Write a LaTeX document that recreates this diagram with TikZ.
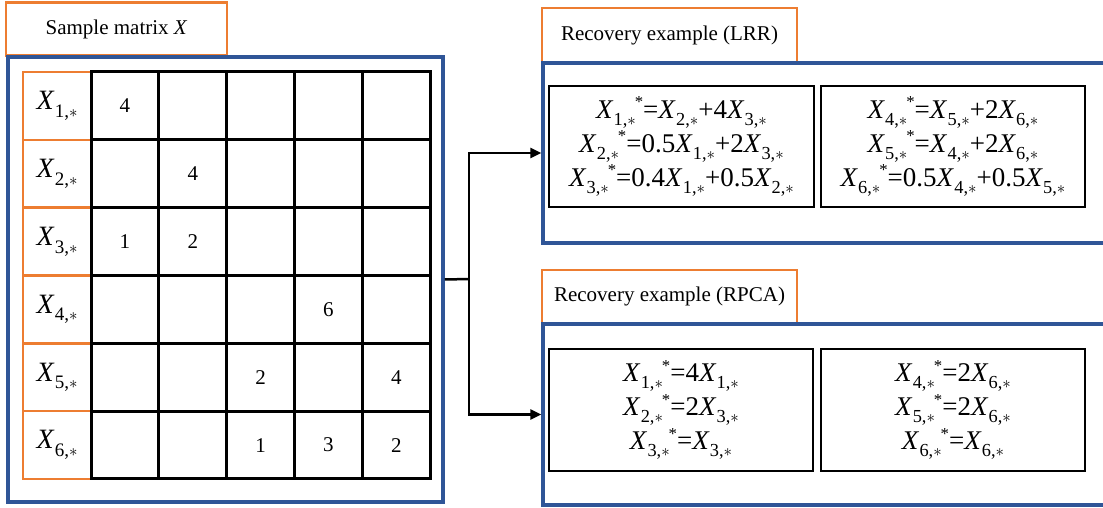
\documentclass[tikz,border=0pt]{standalone}
\usepackage{fontspec}
\usepackage{graphicx}
\setmainfont{Liberation Serif}
\usetikzlibrary{arrows.meta}
\definecolor{orng}{HTML}{ED7D31}
\definecolor{blu}{HTML}{2F5597}
\newcommand{\Xv}[1]{\textit{X}\kern0.01em\raisebox{-0.27em}{\scalebox{0.68}{#1,$\ast$}}}
\newcommand{\Xst}[1]{\Xv{#1}\kern-0.04em\raisebox{0.38em}{\scalebox{0.62}{*}}}
\begin{document}
\begin{tikzpicture}[x=1pt,y=-1pt,
  titlebox/.style={draw=orng,line width=2.5pt,inner sep=0pt,font=\fontsize{21}{25}\selectfont},
  bluebox/.style={draw=blu,line width=3.5pt,inner sep=0pt},
  labcell/.style={draw=orng,line width=2.5pt,minimum width=67.83pt,minimum height=67.83pt,inner sep=0pt,font=\fontsize{28}{30}\selectfont},
  gridcell/.style={draw=black,line width=3pt,minimum width=67.83pt,minimum height=67.83pt,inner sep=0pt,font=\fontsize{21}{25}\selectfont},
  num/.style={font=\fontsize{21}{25}\selectfont},
  eqbox/.style={draw=black,line width=1.5pt,inner sep=0pt,align=center,font=\fontsize{27}{34}\selectfont},
  link/.style={draw=black,line width=2.5pt},
  arr/.style={link,-{Triangle[length=11pt,width=10pt]}}]
\useasboundingbox (0,0) rectangle (1103,508);
% left part
\node[titlebox,minimum width=221pt,minimum height=53pt] (ttlX) at (116.5,29) {Sample matrix \textit{X}};
\node[bluebox,minimum width=435pt,minimum height=445pt] (boxX) at (225.5,279.5) {};
\foreach \i in {1,...,6}{
  \node[labcell] (lab\i) at (23.2+67.83*0.5,72+67.83*\i-67.83*0.5) {\Xv{\i}};
}
\foreach \i in {1,...,6}{
  \foreach \j in {1,...,5}{
    \node[gridcell] (c\i\j) at (23.2+67.83*\j+67.83*0.5,72+67.83*\i-67.83*0.5) {};
  }
}
\node[num] at (c11) {4};
\node[num] at (c22) {4};
\node[num] at (c31) {1};
\node[num] at (c32) {2};
\node[num] at (c44) {6};
\node[num] at (c53) {2};
\node[num] at (c55) {4};
\node[num] at (c63) {1};
\node[num] at (c64) {3};
\node[num] at (c65) {2};
% LRR
\node[titlebox,minimum width=255pt,minimum height=54pt] (ttlL) at (669.5,35) {Recovery example (LRR)};
\node[bluebox,minimum width=563pt,minimum height=180pt] (boxL) at (824.5,153) {};
\node[eqbox,minimum width=265pt,minimum height=121pt] (eqL1) at (681.5,146.5)
  {\Xst{1}=\Xv{2}+4\Xv{3}\\ \Xst{2}=0.5\Xv{1}+2\Xv{3}\\ \Xst{3}=0.4\Xv{1}+0.5\Xv{2}};
\node[eqbox,minimum width=264pt,minimum height=121pt] (eqL2) at (953,146.5)
  {\Xst{4}=\Xv{5}+2\Xv{6}\\ \Xst{5}=\Xv{4}+2\Xv{6}\\ \Xst{6}=0.5\Xv{4}+0.5\Xv{5}};
% RPCA
\node[titlebox,minimum width=255pt,minimum height=53pt] (ttlR) at (669.5,296.5) {Recovery example (RPCA)};
\node[bluebox,minimum width=563pt,minimum height=181pt] (boxR) at (824.5,414.5) {};
\node[eqbox,minimum width=264pt,minimum height=122pt] (eqR1) at (681,410)
  {\Xst{1}=4\Xv{1}\\ \Xst{2}=2\Xv{3}\\ \Xst{3}=\Xv{3}};
\node[eqbox,minimum width=264pt,minimum height=122pt] (eqR2) at (953,410)
  {\Xst{4}=2\Xv{6}\\ \Xst{5}=2\Xv{6}\\ \Xst{6}=\Xv{6}};
% connectors
\coordinate (jn) at (469,279);
\draw[link] (boxX.east) -- (jn);
\draw[arr] (jn) |- (boxL.west);
\draw[arr] (jn) |- (boxR.west);
\end{tikzpicture}
\end{document}
